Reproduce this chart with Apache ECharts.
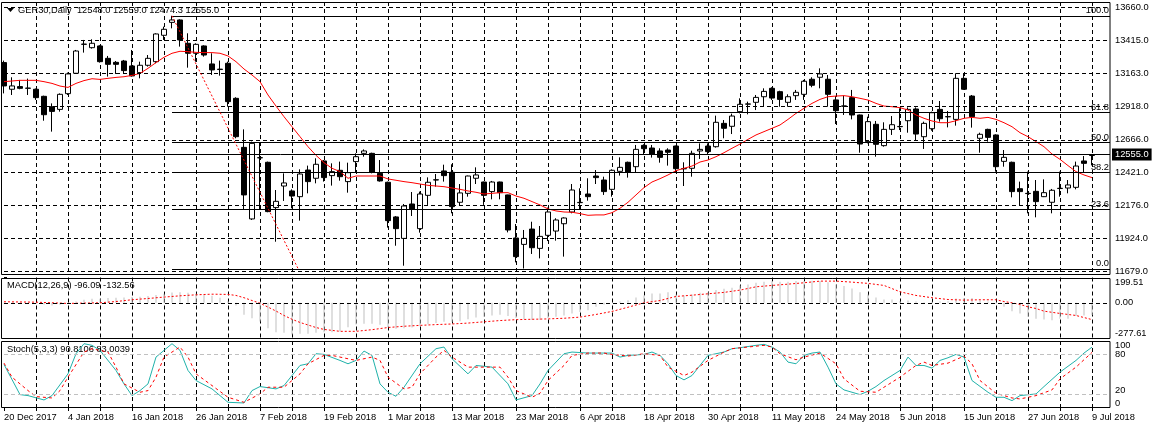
<!DOCTYPE html>
<html><head><meta charset="utf-8">
<script src="https://cdn.jsdelivr.net/npm/echarts@6/dist/echarts.min.js"></script>
<style>html,body{margin:0;padding:0;background:#fff}#c{width:1152px;height:430px}</style>
</head><body><div id="c"></div>
<script>
// ---------------- data ----------------
const dateLabels = ['20 Dec 2017','4 Jan 2018','16 Jan 2018','26 Jan 2018','7 Feb 2018','19 Feb 2018','1 Mar 2018','13 Mar 2018','23 Mar 2018','6 Apr 2018','18 Apr 2018','30 Apr 2018','11 May 2018','24 May 2018','5 Jun 2018','15 Jun 2018','27 Jun 2018','9 Jul 2018'];
const symbolName = 'GER30,Daily';

const open = [13245,13045,13065,13052,13045,12992,12914,12894,13012,13165,
13382,13357,13370,13277,13247,13257,13220,13170,13225,13252,
13450,13547,13565,13390,13315,13370,13235,13196,13240,12977,
12609,12072,12530,12497,12157,12319,12282,12239,12439,12377,
12507,12397,12437,12352,12502,12564,12564,12414,12347,12087,
11926,12184,11999,12249,12364,12432,12422,12197,12264,12377,
12349,12277,12349,12252,11929,11881,11996,11851,11949,11981,
12036,12124,12194,12259,12394,12364,12294,12429,12497,12464,
12624,12604,12582,12589,12619,12448,12452,12582,12619,12614,
12789,12767,12877,12933,12947,12989,13052,13027,12947,12997,
13007,13120,13135,13120,12965,12920,12982,12852,12652,12782,
12622,12744,12764,12809,12897,12689,12749,12894,12840,12819,
13127,12994,12677,12744,12702,12504,12497,12299,12264,12279,
12239,12197,12300,12304,12309,12507,12548];
const high = [13260,13135,13115,13125,13050,12997,12939,13014,13170,13340,
13415,13420,13375,13295,13257,13265,13340,13252,13302,13465,
13515,13596,13570,13465,13390,13375,13315,13260,13252,12985,
12744,12652,12644,12502,12289,12414,12294,12444,12472,12527,
12514,12489,12502,12494,12564,12594,12569,12514,12352,12094,
12184,12274,12277,12384,12409,12479,12482,12334,12397,12459,
12352,12357,12352,12254,12034,11989,12051,12019,12157,12077,
12084,12334,12302,12377,12439,12389,12444,12534,12502,12627,
12632,12627,12602,12602,12622,12497,12584,12639,12639,12847,
12814,12862,12977,12952,13002,13052,13060,13034,13007,13040,
13115,13135,13202,13152,12994,12997,13040,12855,12839,12807,
12797,12844,12902,12909,12909,12802,12877,12957,12882,13165,
13165,13002,12719,12749,12707,12589,12502,12352,12427,12364,
12369,12297,12427,12364,12502,12544,12559];
const low = [13014,13002,13045,13002,12965,12809,12727,12877,13002,13160,
13320,13350,13245,13140,13160,13160,13140,13127,13215,13240,
13415,13502,13365,13207,13252,13290,13152,13147,12914,12677,
12139,12064,12139,12122,11901,12207,12152,12059,12264,12339,
12352,12322,12359,12269,12419,12539,12414,12352,12007,11871,
11721,12094,11969,12177,12314,12352,12114,12172,12239,12334,
12177,12219,12219,11971,11746,11700,11809,11776,11906,11909,
11789,12114,12144,12209,12334,12252,12239,12397,12382,12422,
12559,12532,12494,12472,12424,12319,12389,12522,12559,12607,
12677,12709,12864,12857,12889,12919,12965,12914,12914,12965,
12965,13060,13052,12914,12784,12852,12819,12569,12639,12539,
12614,12702,12739,12719,12659,12597,12734,12802,12759,12772,
13040,12757,12569,12652,12427,12464,12234,12169,12114,12084,
12236,12114,12239,12264,12294,12419,12474.3];
const close = [13070,13070,13052,13054,12982,12854,12879,13007,13160,13332,
13384,13390,13252,13232,13232,13185,13145,13225,13277,13460,
13495,13565,13415,13315,13382,13302,13190,13193,12952,12689,
12252,12639,12532,12127,12204,12342,12244,12409,12352,12482,
12382,12427,12389,12419,12539,12582,12422,12357,12059,11999,
12169,12144,12259,12347,12366,12397,12164,12267,12394,12402,
12249,12349,12269,11989,11789,11926,11856,11941,12124,12064,
12079,12289,12196,12239,12382,12277,12437,12459,12422,12594,
12599,12559,12534,12572,12449,12450,12564,12594,12577,12797,
12752,12844,12932,12935,12984,13029,12979,12969,12989,13022,
13105,13075,13160,13007,12884,12918,12852,12634,12802,12632,
12744,12779,12766,12894,12709,12789,12869,12824,12838,13127,
13045,12839,12707,12684,12464,12534,12277,12277,12262,12202,
12269,12287,12302,12327,12469,12489,12555];
const movingAvg = [13102,13107,13112,13112,13112,13102,13089,13069,13059,13089,
13110,13124,13119,13127,13134,13139,13149,13164,13202,13245,
13285,13315,13330,13327,13322,13320,13320,13315,13295,13252,
13197,13152,13102,13002,12919,12839,12764,12689,12614,12549,
12494,12452,12427,12377,12394,12394,12394,12394,12372,12362,
12352,12344,12334,12324,12319,12314,12304,12294,12282,12272,
12259,12264,12269,12269,12244,12227,12202,12177,12147,12132,
12124,12122,12112,12099,12102,12102,12119,12152,12197,12252,
12307,12349,12374,12402,12434,12452,12469,12499,12514,12539,
12569,12602,12634,12669,12702,12727,12752,12777,12819,12864,
12902,12939,12969,12989,12994,12997,12989,12977,12964,12939,
12919,12914,12907,12889,12852,12827,12807,12794,12794,12809,
12827,12834,12827,12834,12819,12794,12764,12719,12689,12652,
12614,12559,12519,12472,12427,12402,12382];
const priceTicks = [13660,13415,13163,12918,12666,12421,12176,11924,11679];
const priceMin = 11651.2, priceMax = 13699.8;

// Fibonacci retracement
const fibHigh = 13596, fibLow = 11694, fibStartBar = 21, fibEndBar = 36.8;
const fibLevels = [100, 61.8, 50, 38.2, 23.6, 0];

// MACD(12,26,9)
const macdMain = [-3,-5,-6,-8,-10,-14,-21,-16,-3,10,
24,32,32,37,40,42,45,47,53,61,
71,82,84,79,71,66,55,40,13,-21,
-95,-121,-147,-200,-232,-237,-250,-245,-245,-237,
-232,-232,-226,-192,-171,-166,-166,-174,-192,-205,
-200,-195,-185,-170,-160,-150,-150,-145,-130,-115,
-110,-100,-95,-105,-120,-130,-135,-135,-120,-110,
-100,-85,-72,-58,-32,-13,0,10,21,42,
58,74,74,84,66,58,66,79,84,100,
111,118,137,145,158,166,169,166,166,171,
171,174,171,163,145,132,113,84,66,42,
26,26,13,18,10,5,8,10,13,34,
37,37,18,10,-5,-32,-66,-84,-111,-126,
-132,-137,-126,-126,-105,-100,-96.09];
const macdSignal = [[0,8],[4,5],[8,-5],[12,0],[14,10],[16,24],[18,34],[20,45],[22,55],[24,63],[26,68],[28,66],[29,58],[30,40],[31,18],[32,-3],[33,-34],[34,-65],[35,-100],[36,-130],[37,-155],[38,-175],[39,-195],[40,-210],[42,-225],[44,-225],[46,-212],[48,-195],[49,-190],[50,-185],[52,-178],[54,-172],[56,-167],[58,-160],[60,-150],[62,-140],[64,-133],[66,-130],[68,-127],[70,-122],[72,-113],[74,-92],[76,-68],[78,-35],[80,0],[82,18],[84,50],[86,60],[88,71],[90,82],[92,100],[94,126],[96,137],[98,147],[100,158],[102,171],[104,171],[106,163],[108,153],[110,137],[112,87],[114,58],[116,40],[118,26],[120,21],[122,24],[124,24],[125,10],[126,0],[127,-13],[128,-32],[129,-45],[130,-66],[132,-84],[134,-100],[136,-132.56]];
const macdTicks = [-277.61, 0, 199.51];

// Stochastic(5,3,3)
const stochK = [[0,65],[2,20],[3,18.5],[5,12],[6,18.5],[8,51],[9,81],[10,96],[11,93.5],[12,86],[14,56],[15,36],[16,18.5],[17,26],[18,36],[19,76],[21,96],[22,86],[23,56],[24,41],[26,28.5],[28,8.5],[30,7.5],[31,26],[32,32],[34,28.5],[35,33.5],[36,48.5],[37,63.5],[38,66],[39,81],[40,80],[42,71],[43,66],[44,71],[45,85],[46,78.5],[47,36],[48,23.5],[49,17.5],[50,31],[52,66],[54,88.5],[55,91],[56,73.5],[58,51],[59,63.5],[61,61],[63,36],[64,12],[66,18.5],[67,36],[68,56],[70,81],[71,83.5],[73,82],[75,82],[76,82],[77,76],[78,78.5],[80,80],[81,83.5],[82,78.5],[83,66],[84,48.5],[85,42],[86,48.5],[88,78.5],[90,83.5],[91,88.5],[92,90],[94,93.5],[95,95],[96,91],[97,83.5],[98,68.5],[99,66],[100,78.5],[101,82],[102,83.5],[103,61],[104,36],[105,27],[107,20],[108,25],[109,32],[110,41],[112,56],[113,76],[114,63.5],[115,63.5],[116,59.5],[117,71],[118,75],[119,80],[120,76],[121,41],[123,23.5],[124,16],[125,16],[126,11],[127,18.5],[129,21],[130,32],[132,53.5],[134,71],[135,82],[136,90.8106]];
const stochD = [[0,67],[1,46],[3,26],[4,17],[6,15],[7,26],[8,46],[10,83.5],[11,88.5],[13,83.5],[14,61],[15,36],[17,23.5],[18,26],[19,46],[20,76],[22,91],[23,76],[24,51],[26,33.5],[28,16],[30,8.5],[32,21],[33,31],[35,31],[37,51],[38,66],[40,78.5],[41,78.5],[43,73.5],[44,71],[46,76],[47,71],[48,46],[50,28.5],[51,31],[52,51],[54,76],[55,86],[56,76],[58,61],[60,61],[62,61],[63,46],[64,26],[66,16],[67,22],[68,41],[70,63.5],[71,78.5],[73,82],[75,82],[76,80],[78,77.5],[80,81],[82,78.5],[83,61],[85,48.5],[86,53.5],[88,71],[90,83.5],[91,88.5],[93,91],[95,93.5],[96,91],[97,81],[99,72],[100,76],[102,82],[104,66],[105,43.5],[107,25],[109,23.5],[110,31],[112,46],[114,63.5],[115,68.5],[116,63.5],[118,67],[120,77.5],[121,66],[122,41],[124,22],[126,15],[127,13.5],[129,18.5],[131,27],[132,43.5],[134,61],[136,83.0039]];
const stochTicks = [20, 80, 100];
const stochMin = 0;
const stochLevels = [80, 20];

// ---------------- layout ----------------
const FONT = '"Liberation Sans", Arial, sans-serif';
const FS = 9.3;
const gridL = 4, gridR = 1110, barPx = 8;
const xMax = (gridR - gridL) / barPx;
const panels = [
  {top: 2, height: 273},
  {top: 277.5, height: 60.5},
  {top: 341, height: 67}
];
const dash = [4, 3];
const last = close.length - 1;

const candleData = open.map((o, i) => [i, o, close[i], low[i], high[i]]);

// mode 'grid' = split lines only, 'labels' = date labels + ticks only
function xAxisFor(k, mode) {
  const lab = mode === 'labels';
  return {
    type: 'value', gridIndex: k, min: 0, max: xMax, interval: 4,
    axisLine: {show: false},
    axisTick: {show: lab, length: 3, lineStyle: {color: '#000'}},
    axisLabel: {
      show: lab, color: '#000', fontSize: FS, fontFamily: FONT, align: 'left', margin: 5,
      showMinLabel: true, showMaxLabel: false, hideOverlap: false,
      formatter: v => (v % 8 === 0 && dateLabels[v / 8]) ? dateLabels[v / 8] : ''
    },
    splitLine: {show: mode === 'grid', showMinLine: false, showMaxLine: false, lineStyle: {color: '#000', type: dash, width: 1}}
  };
}
function yAxisFor(k, min, max, ticks, fmt, opts) {
  opts = opts || {};
  return {
    type: 'value', gridIndex: k, position: 'right', min, max, show: !opts.hidden,
    axisLine: {show: false},
    axisTick: {show: true, length: 3, customValues: ticks, lineStyle: {color: '#000'}},
    axisLabel: {show: true, customValues: ticks, color: '#000', fontSize: FS, fontFamily: FONT, margin: 5,
      hideOverlap: false, showMinLabel: true, showMaxLabel: true, formatter: fmt,
      verticalAlignMaxLabel: opts.edge ? 'top' : 'middle', verticalAlignMinLabel: opts.edge ? 'bottom' : 'middle'},
    splitLine: {show: false}
  };
}

const gridMarks = priceTicks.map(v => ({yAxis: v, lineStyle: {type: dash, color: '#000', width: 1}, label: {show: false}}));
const fibMarks = fibLevels.map(lv => {
  const v = fibLow + (fibHigh - fibLow) * lv / 100;
  return [
    {coord: [fibStartBar, v], lineStyle: {type: 'solid', color: '#000', width: 1},
      label: {show: true, position: 'insideEndTop', formatter: lv.toFixed(1), color: '#000', fontSize: FS, fontFamily: FONT, distance: 1}},
    {coord: [xMax, v]}
  ];
});
const fibDiag = [{coord: [fibStartBar, fibHigh], lineStyle: {type: [2, 2], color: '#ff0000', width: 1}, label: {show: false}}, {coord: [fibEndBar, fibLow]}];
const currentMark = {yAxis: close[last], lineStyle: {type: 'solid', color: '#000', width: 1},
  label: {show: true, position: 'end', formatter: close[last].toFixed(1), color: '#fff', backgroundColor: '#000',
    padding: [2, 3, 1, 3], fontSize: FS, fontFamily: FONT, distance: 2}};

const stochMarks = stochLevels.map(v => ({yAxis: v, lineStyle: {type: dash, color: '#c0c0c0', width: 1}, label: {show: false}}));

const headerText = symbolName + '  ' + [open[last], high[last], low[last], close[last]].map(v => v.toFixed(1)).join(' ');
const macdText = 'MACD(12,26,9) ' + macdMain[last].toFixed(2) + ' ' + macdSignal[macdSignal.length - 1][1].toFixed(2);
const stochText = 'Stoch(5,3,3) ' + stochK[stochK.length - 1][1].toFixed(4) + ' ' + stochD[stochD.length - 1][1].toFixed(4);

const borders = panels.map((p, i) => ({
  type: 'rect', id: 'border' + i, silent: true, z: 100,
  shape: {x: 1.5, y: Math.round(p.top) + 0.5, width: gridR - 1.5, height: Math.round(p.height) - 1},
  style: {fill: 'none', stroke: '#000', lineWidth: 1}
}));

const grids = panels.map(p => ({left: gridL, right: 1152 - gridR, top: p.top, height: p.height, containLabel: false}));
// extra grid over the stochastic panel carrying the date axis
grids.push({left: gridL, right: 1152 - gridR, top: panels[2].top, height: panels[2].height, containLabel: false});

const chart = echarts.init(document.getElementById('c'), null, {renderer: 'canvas'});
chart.setOption({
  animation: false,
  backgroundColor: '#fff',
  grid: grids,
  xAxis: [xAxisFor(0, 'grid'), xAxisFor(1, 'grid'), xAxisFor(2, 'grid'), xAxisFor(3, 'labels')],
  yAxis: [
    yAxisFor(0, priceMin, priceMax, priceTicks, v => v.toFixed(1)),
    yAxisFor(1, macdTicks[0], macdTicks[2], macdTicks, v => v.toFixed(2), {edge: true}),
    yAxisFor(2, stochMin, 100, stochTicks, v => String(Math.round(v)), {edge: true}),
    yAxisFor(3, stochMin, 100, stochTicks, v => '', {hidden: true})
  ],
  graphic: borders.concat([
    {type: 'polygon', id: 'tri', silent: true, shape: {points: [[7, 8], [14, 8], [10.5, 12]]}, style: {fill: '#000'}},
    {type: 'text', id: 'hdr', silent: true, x: 18, y: 10, style: {text: headerText, fill: '#000', font: FS + 'px ' + FONT, verticalAlign: 'middle'}},
    {type: 'text', id: 'macdT', silent: true, x: 7, y: 285, style: {text: macdText, fill: '#000', font: FS + 'px ' + FONT, verticalAlign: 'middle'}},
    {type: 'text', id: 'stochT', silent: true, x: 7, y: 349, style: {text: stochText, fill: '#000', font: FS + 'px ' + FONT, verticalAlign: 'middle'}}
  ]),
  series: [
    {
      type: 'line', xAxisIndex: 0, yAxisIndex: 0, data: [], silent: true, z: 1,
      markLine: {silent: true, symbol: 'none', animation: false, data: gridMarks}
    },
    {
      type: 'candlestick', xAxisIndex: 0, yAxisIndex: 0, data: candleData, barWidth: 5, clip: false, z: 3,
      itemStyle: {color: '#fff', color0: '#000', borderColor: '#000', borderColor0: '#000', borderColorDoji: '#000', borderWidth: 1},
      markLine: {silent: true, symbol: 'none', animation: false, data: fibMarks.concat([fibDiag, currentMark])}
    },
    {
      type: 'line', xAxisIndex: 0, yAxisIndex: 0, data: movingAvg.map((v, i) => [i, v]), showSymbol: false, z: 4,
      lineStyle: {color: '#ff0000', width: 1}
    },
    {
      type: 'bar', xAxisIndex: 1, yAxisIndex: 1, data: macdMain.map((v, i) => [i, v]), barWidth: 1, z: 3,
      itemStyle: {color: '#c0c0c0'},
      markLine: {silent: true, symbol: 'none', animation: false, data: [{yAxis: 0, lineStyle: {type: dash, color: '#000', width: 1}, label: {show: false}}]}
    },
    {
      type: 'line', xAxisIndex: 1, yAxisIndex: 1, data: macdSignal, showSymbol: false, z: 4,
      lineStyle: {color: '#ff0000', width: 1, type: [2, 2]}
    },
    {
      type: 'line', xAxisIndex: 2, yAxisIndex: 2, data: [], silent: true, z: 2,
      markLine: {silent: true, symbol: 'none', animation: false, data: stochMarks}
    },
    {
      type: 'line', xAxisIndex: 2, yAxisIndex: 2, data: stochK, showSymbol: false, z: 4,
      lineStyle: {color: '#20b2aa', width: 1}
    },
    {
      type: 'line', xAxisIndex: 2, yAxisIndex: 2, data: stochD, showSymbol: false, z: 4,
      lineStyle: {color: '#ff0000', width: 1, type: [3, 3]}
    },
    {type: 'line', xAxisIndex: 3, yAxisIndex: 3, data: [], silent: true}
  ]
});

// bottom "0" level label of the stochastic scale: placed through the axis scale, text sitting just above the border (MT4 style)
const zeroY = chart.convertToPixel({yAxisIndex: 2}, stochMin);
if (isFinite(zeroY)) {
  chart.setOption({
    graphic: [{type: 'text', id: 'stochZero', silent: true, z: 101, x: gridR + 5, y: zeroY - 0.5,
      style: {text: String(stochMin), fill: '#000', font: FS + 'px ' + FONT, verticalAlign: 'bottom', align: 'left'}}]
  });
}
</script>
</body></html>
